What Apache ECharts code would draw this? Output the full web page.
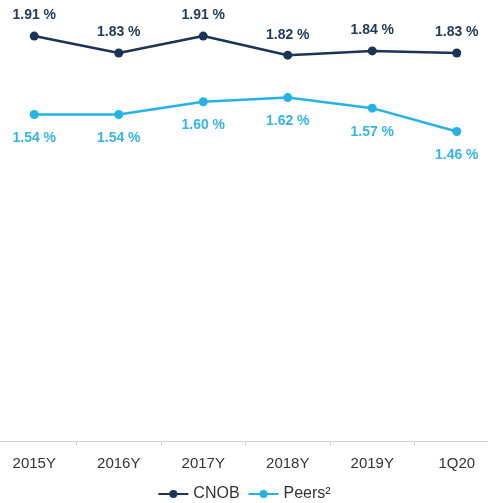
<!DOCTYPE html>
<html><head><meta charset="utf-8">
<script src="https://cdn.jsdelivr.net/npm/echarts@6/dist/echarts.min.js"></script>
<style>html,body{margin:0;padding:0;background:#fff}#c{width:488px;height:503px}</style>
</head><body><div id="c"></div>
<script>
const categories = ['2015Y','2016Y','2017Y','2018Y','2019Y','1Q20'];
const cnob = [1.91, 1.83, 1.91, 1.82, 1.84, 1.83];
const peers = [1.54, 1.54, 1.60, 1.62, 1.57, 1.46];
const chart = echarts.init(document.getElementById('c'));
const fmt = p => p.value.toFixed(2) + ' %';
const font = 'Liberation Sans, Arial, sans-serif';
chart.setOption({
  animation: false,
  grid: {left: -8, width: 507, top: 17, height: 424, containLabel: false, outerBoundsMode: 'none'},
  xAxis: {
    type: 'category', data: categories, boundaryGap: true,
    axisLine: {lineStyle: {color: '#d0d0d0', width: 1}},
    axisTick: {show: true, length: 4, lineStyle: {color: '#d0d0d0'}},
    axisLabel: {color: '#333', fontSize: 15, fontFamily: font, margin: 15}
  },
  yAxis: {type: 'value', min: 0, max: 2, show: false, splitLine: {show: false}},
  legend: {
    top: 481, left: 'center', itemWidth: 30, itemHeight: 10, itemGap: 8,
    textStyle: {color: '#333', fontSize: 16, fontFamily: font},
    data: ['CNOB', 'Peers²']
  },
  series: [
    {name: 'CNOB', type: 'line', data: cnob, symbol: 'circle', symbolSize: 9,
     lineStyle: {color: '#1b3354', width: 2.5}, itemStyle: {color: '#1b3354'},
     label: {show: true, position: 'top', distance: 9, formatter: fmt,
       color: '#243b5a', fontWeight: 'bold', fontSize: 14, fontFamily: font}},
    {name: 'Peers²', type: 'line', data: peers, symbol: 'circle', symbolSize: 9,
     lineStyle: {color: '#27b2e5', width: 2.5}, itemStyle: {color: '#27b2e5'},
     label: {show: true, position: 'bottom', distance: 12, formatter: fmt,
       color: '#35b6e6', fontWeight: 'bold', fontSize: 14, fontFamily: font}}
  ]
});
</script></body></html>
